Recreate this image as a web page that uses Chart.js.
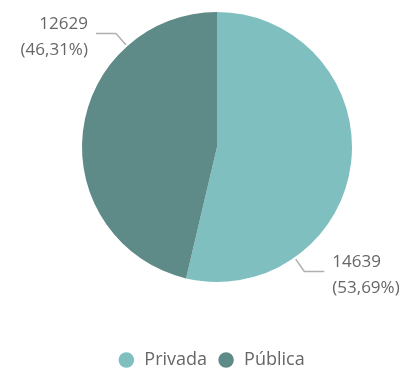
<!DOCTYPE html>
<html>
<head>
<meta charset="utf-8">
<script src="https://cdn.jsdelivr.net/npm/chart.js@4"></script>
<style>
  html, body { margin: 0; padding: 0; background: #fff; }
  #wrap { width: 403px; height: 368px; }
</style>
</head>
<body>
<div id="wrap"><canvas id="pieChart"></canvas></div>
<script>
const categories = ["Privada", "Pública"];
const values = [14639, 12629];
const colors = ["#7fbfbf", "#5e8a88"];

// labels with leader lines, placed 3/4 along each slice
const sliceLabels = {
  id: "sliceLabels",
  afterDatasetsDraw(chart) {
    const ctx = chart.ctx;
    const arcs = chart.getDatasetMeta(0).data;
    const total = values.reduce((a, b) => a + b, 0);
    ctx.save();
    ctx.font = "17px 'Open Sans'";
    ctx.textBaseline = "middle";
    arcs.forEach((arc, i) => {
      const a = arc.startAngle + 0.75 * (arc.endAngle - arc.startAngle);
      const cos = Math.cos(a), sin = Math.sin(a);
      const r = arc.outerRadius;
      const x0 = arc.x + (r + 2) * cos, y0 = arc.y + (r + 2) * sin;
      const x1 = arc.x + (r + 17) * cos, y1 = arc.y + (r + 17) * sin;
      const dir = cos >= 0 ? 1 : -1;
      const x2 = x1 + dir * 20;
      ctx.strokeStyle = "#b0b0b0";
      ctx.lineWidth = 1.5;
      ctx.beginPath();
      ctx.moveTo(x0, y0);
      ctx.lineTo(x1, y1);
      ctx.lineTo(x2, y1);
      ctx.stroke();
      const pct = (values[i] / total * 100).toFixed(2).replace(".", ",");
      ctx.fillStyle = "#666";
      ctx.textAlign = dir > 0 ? "left" : "right";
      const tx = x2 + dir * 8;
      ctx.fillText(String(values[i]), tx, y1 - 9);
      ctx.fillText("(" + pct + "%)", tx, y1 + 17);
    });
    ctx.restore();
  }
};

// nudge the legend a little left, like the original
const legendShift = {
  id: "legendShift",
  afterLayout(chart) {
    chart.legend.left -= 6;
    chart.legend.right -= 6;
  }
};

new Chart(document.getElementById("pieChart"), {
  type: "pie",
  data: {
    labels: categories,
    datasets: [{
      data: values,
      backgroundColor: colors,
      borderWidth: 0,
      hoverOffset: 0
    }]
  },
  options: {
    responsive: true,
    maintainAspectRatio: false,
    animation: false,
    layout: { padding: { left: 82, right: 51, top: 10, bottom: -11 } },
    plugins: {
      tooltip: { enabled: false },
      legend: {
        position: "bottom",
        title: { display: true, text: "", font: { size: 10 }, padding: { top: 0, bottom: 45 } },
        labels: {
          usePointStyle: true,
          pointStyle: "circle",
          boxHeight: 11,
          padding: 10,
          color: "#666",
          font: { family: "'Open Sans'", size: 18, lineHeight: 1 }
        }
      }
    }
  },
  plugins: [sliceLabels, legendShift]
});
</script>
</body>
</html>
